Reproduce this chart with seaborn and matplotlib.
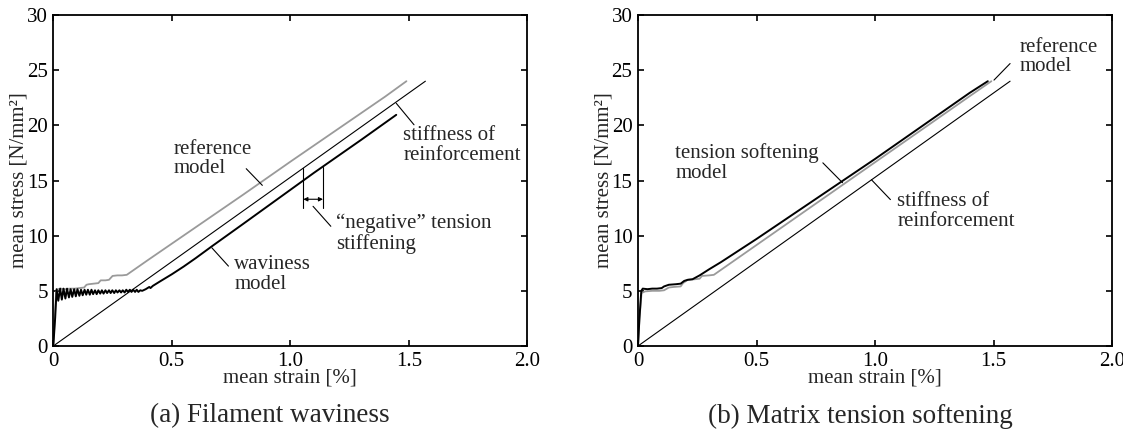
import matplotlib
matplotlib.use("Agg")
import matplotlib.pyplot as plt
import seaborn as sns
import pandas as pd

# ---------------- data ----------------
x_ticks = [0, 0.5, 1.0, 1.5, 2.0]
x_tick_labels = ["0", "0.5", "1.0", "1.5", "2.0"]
y_ticks = [0, 5, 10, 15, 20, 25, 30]
y_tick_labels = ["0", "5", "10", "15", "20", "25", "30"]

# stiffness of reinforcement (both panels)
stiff_x = [0.0, 1.57]
stiff_y = [0.0, 24.0]

# (a) reference model (grey)
ref_a_x = [0, 0.006, 0.012, 0.02, 0.03, 0.05, 0.07, 0.09, 0.11, 0.13, 0.14, 0.15, 0.17,
           0.19, 0.20, 0.22, 0.235, 0.25, 0.27, 0.29, 0.31, 0.40, 0.60, 0.80, 1.00, 1.20,
           1.40, 1.49]
ref_a_y = [0, 2.5, 4.9, 5.15, 5.2, 5.15, 5.2, 5.2, 5.25, 5.3, 5.55, 5.6, 5.65,
           5.7, 5.95, 5.95, 6.0, 6.35, 6.4, 6.4, 6.45, 7.8, 10.75, 13.7, 16.7, 19.65,
           22.6, 24.0]

# (a) waviness model (black)
wav_x = [0.000, 0.008, 0.014, 0.021, 0.029, 0.036, 0.043, 0.051, 0.058, 0.066, 0.073,
         0.080, 0.088, 0.095, 0.102, 0.110, 0.117, 0.124, 0.132, 0.139, 0.146, 0.154,
         0.161, 0.168, 0.176, 0.183, 0.190, 0.198, 0.205, 0.212, 0.220, 0.227, 0.235,
         0.242, 0.249, 0.257, 0.264, 0.271, 0.279, 0.286, 0.293, 0.301, 0.308, 0.315,
         0.323, 0.330, 0.337, 0.345, 0.352, 0.359, 0.367, 0.375, 0.390, 0.405, 0.410,
         0.420, 0.450, 0.500, 0.550, 0.600, 0.670, 0.800, 0.900, 1.000, 1.100, 1.200,
         1.300, 1.447]
wav_y = [0.00, 2.60, 5.15, 4.10, 5.20, 4.20, 5.20, 4.30, 5.20, 4.40, 5.15,
         4.45, 5.15, 4.50, 5.15, 4.55, 5.10, 4.60, 5.10, 4.65, 5.10, 4.65,
         5.10, 4.70, 5.05, 4.70, 5.05, 4.75, 5.05, 4.75, 5.05, 4.80, 5.05,
         4.80, 5.05, 4.80, 5.05, 4.85, 5.05, 4.85, 5.05, 4.85, 5.10, 4.90,
         5.10, 4.90, 5.10, 4.90, 5.10, 4.90, 5.05, 5.00, 5.15, 5.35, 5.25,
         5.45, 5.85, 6.50, 7.20, 7.95, 9.05, 11.05, 12.60, 14.15, 15.70, 17.20,
         18.70, 20.95]

# (b) reference model (grey)
ref_b_x = [0, 0.006, 0.015, 0.03, 0.06, 0.09, 0.11, 0.13, 0.15, 0.18, 0.19, 0.21, 0.24,
           0.26, 0.27, 0.30, 0.32, 0.40, 0.50, 0.60, 0.80, 1.00, 1.20, 1.40, 1.491]
ref_b_y = [0, 2.4, 4.8, 4.95, 5.0, 5.0, 5.05, 5.3, 5.35, 5.4, 5.7, 6.0, 6.05,
           6.1, 6.35, 6.4, 6.45, 7.65, 9.15, 10.65, 13.65, 16.65, 19.65, 22.65, 24.0]

# (b) tension softening model (black)
ts_x = [0, 0.006, 0.014, 0.02, 0.04, 0.06, 0.08, 0.10, 0.11, 0.13, 0.16, 0.18, 0.195,
        0.21, 0.23, 0.26, 0.30, 0.35, 0.40, 0.50, 0.60, 0.70, 0.80, 0.90, 1.00, 1.10,
        1.20, 1.30, 1.40, 1.476]
ts_y = [0, 2.5, 5.0, 5.2, 5.15, 5.2, 5.2, 5.25, 5.4, 5.55, 5.6, 5.65, 5.9,
        6.0, 6.05, 6.4, 6.95, 7.6, 8.3, 9.7, 11.15, 12.6, 14.05, 15.5, 16.95, 18.45,
        19.95, 21.45, 22.95, 24.0]

# annotation texts (label, x, y) and pointer lines
ann_a = [("reference\nmodel", 0.508, 16.95),
         ("stiffness of\nreinforcement", 1.477, 18.2),
         ("waviness\nmodel", 0.764, 6.5),
         ("\u201cnegative\u201d tension\nstiffening", 1.194, 10.2)]
ptr_a = [((0.814, 16.07), (0.882, 14.56)),
         ((1.447, 22.0), (1.522, 20.05)),
         ((0.669, 8.9), (0.739, 7.24)),
         ((1.096, 12.66), (1.171, 10.85))]
ann_b = [("reference\nmodel", 1.608, 26.2),
         ("tension softening\nmodel", 0.157, 16.6),
         ("stiffness of\nreinforcement", 1.094, 12.2)]
ptr_b = [((1.502, 24.1), (1.57, 25.6)),
         ((0.78, 16.6), (0.863, 14.8)),
         ((0.985, 15.07), (1.065, 13.27))]
# "negative" tension stiffening dimension lines
dim_x = [1.055, 1.138]
dim_y_top = [16.1, 16.2]
dim_y_bot = 12.5
dim_arrow_y = 13.3

captions = ["(a) Filament waviness", "(b) Matrix tension softening"]

# ---------------- style ----------------
sns.set_theme(style="ticks")
plt.rcParams["font.family"] = ["Liberation Serif", "DejaVu Serif"]
plt.rcParams["axes.linewidth"] = 1.3

FS = 15
GREY = "#9a9a9a"

fig = plt.figure(figsize=(11.23, 4.34), dpi=100)
W, H = 1123, 434
ax1 = fig.add_axes([53.3 / W, 1 - 346 / H, 474 / W, 331 / H])
ax2 = fig.add_axes([638 / W, 1 - 346 / H, 474 / W, 331 / H])


def frame(ax):
    ax.set_xlim(0, 2.0)
    ax.set_ylim(0, 30)
    ax.set_xticks(x_ticks)
    ax.set_xticklabels(x_tick_labels)
    ax.set_yticks(y_ticks)
    ax.set_yticklabels(y_tick_labels)
    ax.tick_params(direction="in", top=True, right=True, length=4, width=1.2,
                   labelsize=FS, pad=4, colors="black")
    for s in ax.spines.values():
        s.set_color("black")
        s.set_linewidth(1.3)
    ax.set_xlabel("mean strain [%]", fontsize=FS)
    ax.set_ylabel("mean stress [N/mm\u00b2]", fontsize=FS)
    ax.xaxis.set_label_coords(0.5, -0.068)
    ax.yaxis.set_label_coords(-0.052, 0.5)
    ax.grid(False)


def curve(ax, xs, ys, color, lw):
    df = pd.DataFrame({"x": xs, "y": ys})
    sns.lineplot(data=df, x="x", y="y", ax=ax, color=color, linewidth=lw,
                 estimator=None, sort=False)


# panel (a)
curve(ax1, stiff_x, stiff_y, "black", 0.8)
curve(ax1, ref_a_x, ref_a_y, GREY, 1.3)
curve(ax1, wav_x, wav_y, "black", 1.4)
frame(ax1)
for (t, x, y) in ann_a:
    ax1.text(x, y, t, fontsize=FS, ha="left", va="center", linespacing=1.05)
for (p0, p1) in ptr_a:
    ax1.plot([p0[0], p1[0]], [p0[1], p1[1]], color="black", lw=0.8)
for dx, dt in zip(dim_x, dim_y_top):
    ax1.plot([dx, dx], [dim_y_bot, dt], color="black", lw=0.8)
ax1.annotate("", xy=(dim_x[1], dim_arrow_y), xytext=(dim_x[0], dim_arrow_y),
             arrowprops=dict(arrowstyle="<|-|>", lw=0.8, color="black",
                             mutation_scale=6, shrinkA=0, shrinkB=0))

# panel (b)
curve(ax2, stiff_x, stiff_y, "black", 0.8)
curve(ax2, ref_b_x, ref_b_y, GREY, 1.3)
curve(ax2, ts_x, ts_y, "black", 1.4)
frame(ax2)
for (t, x, y) in ann_b:
    ax2.text(x, y, t, fontsize=FS, ha="left", va="center", linespacing=1.05)
for (p0, p1) in ptr_b:
    ax2.plot([p0[0], p1[0]], [p0[1], p1[1]], color="black", lw=0.8)

fig.text(270 / W, 1 - 416 / H, captions[0], fontsize=19.5, ha="center", va="center")
fig.text(860 / W, 1 - 416 / H, captions[1], fontsize=19.5, ha="center", va="center")

fig.savefig("out.png", dpi=100, facecolor="white")
